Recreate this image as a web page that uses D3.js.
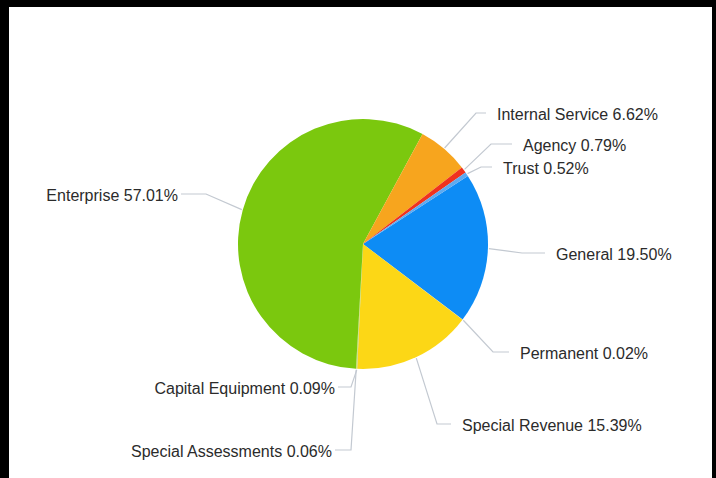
<!DOCTYPE html>
<html>
<head>
<meta charset="utf-8">
<script src="https://cdn.jsdelivr.net/npm/d3@7/dist/d3.min.js"></script>
<style>
  html, body { margin: 0; padding: 0; background: #000; }
  svg { display: block; }
  text { font-family: "Liberation Sans", Arial, sans-serif; }
</style>
</head>
<body>
<svg id="chart" width="716" height="478"></svg>
<script>
// Fund categories, listed clockwise starting from the General fund
const categories = [
  "General", "Permanent", "Special Revenue", "Capital Equipment",
  "Special Assessments", "Enterprise", "Internal Service", "Agency", "Trust"
];
// Share of the total, in percent
const shares = [19.50, 0.02, 15.39, 0.09, 0.06, 57.01, 6.62, 0.79, 0.52];
// Slice colours
const colors = [
  "#0d8cf5", "#f6c7cf", "#fcd716", "#b9d27a",
  "#c8d84a", "#7bc80e", "#f7a51e", "#f0321e", "#5eaaf0"
];

// Label placement: side, label line y, elbow x, tail end x
const labelLayout = [
  { side:  1, y: 253, elbow: 522, end: 545 },
  { side:  1, y: 352, elbow: 493, end: 509 },
  { side:  1, y: 424, elbow: 437, end: 451 },
  { side: -1, y: 387, elbow: 351, end: 338 },
  { side: -1, y: 450, elbow: 351, end: 335 },
  { side: -1, y: 194, elbow: 206, end: 181 },
  { side:  1, y: 113, elbow: 476, end: 486 },
  { side:  1, y: 144, elbow: 491, end: 512 },
  { side:  1, y: 167, elbow: 481, end: 492 }
];

const W = 716, H = 478;
const cx = 363, cy = 244, R = 125;
const startDeg = 57;

const svg = d3.select("#chart");

// Frame and white panel
svg.append("rect").attr("x", 0).attr("y", 0).attr("width", W).attr("height", H).attr("fill", "#000");
svg.append("rect").attr("x", 9).attr("y", 7).attr("width", 703).attr("height", H - 7).attr("fill", "#fff");

const data = categories.map((name, i) => ({ name, value: shares[i], color: colors[i], layout: labelLayout[i] }));

const pie = d3.pie()
  .value(d => d.value)
  .sort(null)
  .startAngle(startDeg * Math.PI / 180)
  .endAngle((startDeg + 360) * Math.PI / 180);

const arcs = pie(data);
const arc = d3.arc().innerRadius(0).outerRadius(R);
const edgeArc = d3.arc().innerRadius(R + 1).outerRadius(R + 1);

const g = svg.append("g").attr("transform", `translate(${cx},${cy})`);

g.selectAll("path.slice")
  .data(arcs)
  .join("path")
  .attr("class", "slice")
  .attr("d", arc)
  .attr("fill", d => d.data.color);

// Connector lines
const lines = svg.append("g");
lines.selectAll("polyline")
  .data(arcs)
  .join("polyline")
  .attr("fill", "none")
  .attr("stroke", "#c3c9d1")
  .attr("stroke-width", 1.2)
  .attr("points", d => {
    const [ex, ey] = edgeArc.centroid(d);
    const L = d.data.layout;
    return [[cx + ex, cy + ey], [L.elbow, L.y], [L.end, L.y]].map(p => p.join(",")).join(" ");
  });

// Labels
const fmt = d3.format(".2f");
svg.append("g").selectAll("text")
  .data(arcs)
  .join("text")
  .attr("x", d => d.data.layout.end + (d.data.layout.side > 0 ? 11 : -3))
  .attr("y", d => d.data.layout.y + 1)
  .attr("dy", "0.35em")
  .attr("text-anchor", d => d.data.layout.side > 0 ? "start" : "end")
  .attr("font-size", 16)
  .attr("fill", "#2b2b2b")
  .text(d => `${d.data.name} ${fmt(d.data.value)}%`);
</script>
</body>
</html>
